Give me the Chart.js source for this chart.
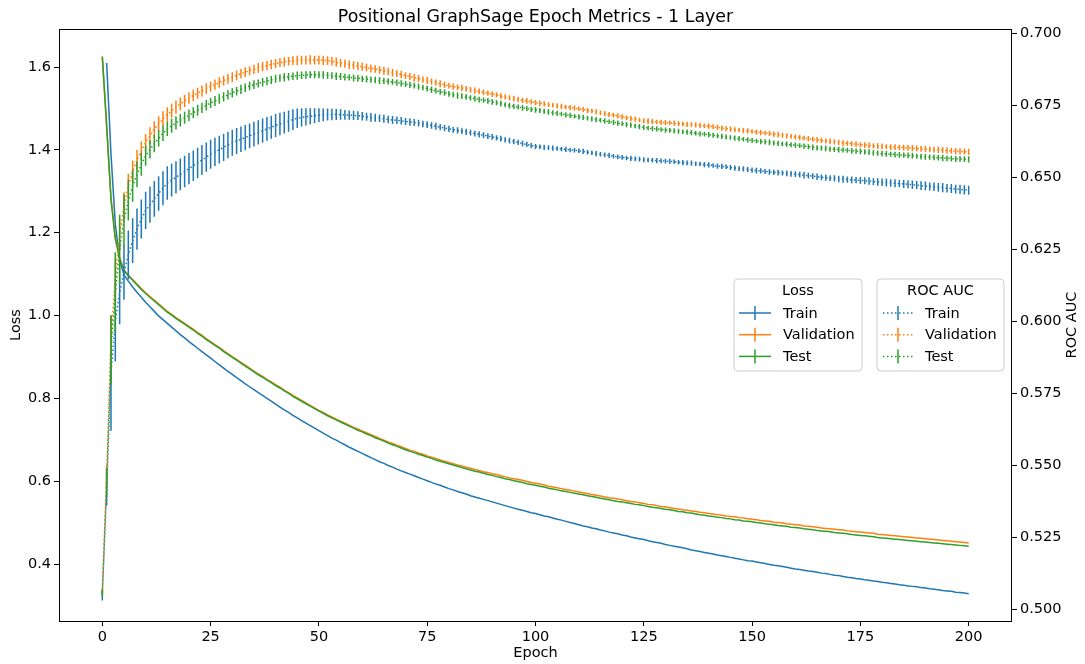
<!DOCTYPE html>
<html>
<head>
<meta charset="utf-8">
<script src="https://cdn.jsdelivr.net/npm/chart.js@4.4.0/dist/chart.umd.min.js"></script>
<style>
  body { margin: 0; background: #fff; }
  canvas { display: block; }
</style>
</head>
<body>
<canvas id="chart" width="1085" height="664"></canvas>
<script>
// epoch index 0..200
const epochs = Array.from({length: 201}, (_, i) => i);

const epochTicks = [0, 25, 50, 75, 100, 125, 150, 175, 200];
const lossTicks = [0.4, 0.6, 0.8, 1.0, 1.2, 1.4, 1.6];
const aucTicks = [0.500, 0.525, 0.550, 0.575, 0.600, 0.625, 0.650, 0.675, 0.700];

const lossTrain = [
  null,1.610,1.390,1.220,1.135,1.098,1.083,1.069,1.056,1.044,
  1.032,1.021,1.010,0.999,0.990,0.981,0.972,0.963,0.954,0.946,
  0.937,0.929,0.921,0.913,0.905,0.897,0.889,0.881,0.873,0.865,
  0.858,0.850,0.843,0.835,0.828,0.821,0.814,0.807,0.800,0.793,
  0.786,0.779,0.772,0.766,0.759,0.753,0.746,0.740,0.734,0.728,
  0.722,0.716,0.710,0.704,0.699,0.693,0.688,0.682,0.677,0.672,
  0.667,0.662,0.657,0.652,0.647,0.643,0.638,0.634,0.629,0.625,
  0.621,0.617,0.613,0.609,0.605,0.601,0.597,0.593,0.590,0.586,
  0.582,0.579,0.575,0.572,0.569,0.565,0.562,0.559,0.556,0.553,
  0.550,0.547,0.544,0.541,0.538,0.535,0.532,0.530,0.527,0.524,
  0.522,0.519,0.516,0.514,0.511,0.508,0.506,0.503,0.500,0.498,
  0.495,0.492,0.490,0.487,0.485,0.482,0.480,0.477,0.475,0.473,
  0.470,0.468,0.465,0.463,0.461,0.459,0.456,0.454,0.452,0.450,
  0.447,0.445,0.443,0.441,0.439,0.437,0.434,0.432,0.430,0.428,
  0.426,0.424,0.422,0.420,0.418,0.416,0.414,0.412,0.410,0.408,
  0.407,0.405,0.403,0.401,0.399,0.397,0.396,0.394,0.392,0.390,
  0.388,0.387,0.385,0.383,0.382,0.380,0.378,0.377,0.375,0.373,
  0.372,0.370,0.368,0.367,0.365,0.364,0.362,0.361,0.359,0.358,
  0.356,0.355,0.353,0.352,0.350,0.349,0.347,0.346,0.345,0.343,
  0.342,0.340,0.339,0.338,0.336,0.335,0.334,0.332,0.331,0.330,
  0.328
];

const lossVal = [
  1.625,1.455,1.285,1.190,1.140,1.110,1.098,1.087,1.076,1.065,
  1.055,1.046,1.037,1.028,1.019,1.010,1.003,0.995,0.988,0.981,
  0.974,0.967,0.959,0.952,0.944,0.937,0.930,0.923,0.915,0.908,
  0.901,0.894,0.887,0.880,0.873,0.866,0.859,0.853,0.846,0.840,
  0.833,0.827,0.820,0.814,0.807,0.801,0.795,0.789,0.783,0.777,
  0.771,0.766,0.760,0.755,0.750,0.745,0.740,0.735,0.730,0.726,
  0.721,0.717,0.712,0.708,0.703,0.699,0.695,0.691,0.687,0.683,
  0.679,0.675,0.672,0.668,0.665,0.661,0.658,0.655,0.651,0.648,
  0.645,0.642,0.639,0.637,0.634,0.631,0.628,0.626,0.623,0.621,
  0.618,0.616,0.613,0.611,0.608,0.606,0.604,0.602,0.599,0.597,
  0.595,0.593,0.591,0.588,0.586,0.584,0.582,0.580,0.578,0.576,
  0.574,0.572,0.570,0.568,0.566,0.564,0.562,0.560,0.559,0.557,
  0.555,0.553,0.551,0.550,0.548,0.546,0.544,0.543,0.541,0.539,
  0.538,0.536,0.534,0.533,0.531,0.530,0.528,0.527,0.525,0.524,
  0.522,0.521,0.519,0.518,0.516,0.515,0.514,0.512,0.511,0.509,
  0.508,0.507,0.505,0.504,0.503,0.501,0.500,0.499,0.497,0.496,
  0.495,0.494,0.492,0.491,0.490,0.489,0.487,0.486,0.485,0.484,
  0.483,0.482,0.480,0.479,0.478,0.477,0.476,0.475,0.474,0.472,
  0.471,0.470,0.469,0.468,0.467,0.466,0.465,0.464,0.463,0.462,
  0.461,0.460,0.459,0.458,0.457,0.456,0.455,0.454,0.453,0.452,
  0.451
];

const lossTest = [
  1.625,1.460,1.280,1.185,1.136,1.108,1.096,1.085,1.074,1.063,
  1.053,1.044,1.035,1.026,1.017,1.008,1.001,0.993,0.986,0.979,
  0.972,0.965,0.957,0.950,0.942,0.935,0.928,0.921,0.913,0.906,
  0.899,0.892,0.885,0.878,0.871,0.864,0.857,0.851,0.844,0.838,
  0.831,0.825,0.818,0.812,0.805,0.799,0.793,0.787,0.781,0.775,
  0.769,0.764,0.758,0.753,0.748,0.743,0.738,0.733,0.728,0.723,
  0.719,0.714,0.710,0.705,0.701,0.697,0.692,0.688,0.684,0.680,
  0.676,0.672,0.669,0.665,0.662,0.658,0.655,0.651,0.648,0.645,
  0.642,0.639,0.636,0.633,0.630,0.627,0.624,0.622,0.619,0.616,
  0.614,0.611,0.609,0.606,0.604,0.601,0.599,0.597,0.594,0.592,
  0.590,0.588,0.586,0.583,0.581,0.579,0.577,0.575,0.573,0.571,
  0.569,0.567,0.565,0.563,0.561,0.559,0.557,0.555,0.553,0.551,
  0.550,0.548,0.546,0.544,0.543,0.541,0.539,0.537,0.536,0.534,
  0.532,0.531,0.529,0.527,0.526,0.524,0.523,0.521,0.519,0.518,
  0.516,0.515,0.513,0.512,0.510,0.509,0.507,0.506,0.504,0.503,
  0.502,0.500,0.499,0.497,0.496,0.495,0.493,0.492,0.491,0.489,
  0.488,0.487,0.485,0.484,0.483,0.481,0.480,0.479,0.478,0.476,
  0.475,0.474,0.473,0.471,0.470,0.469,0.468,0.467,0.466,0.464,
  0.463,0.462,0.461,0.460,0.459,0.458,0.457,0.456,0.455,0.454,
  0.453,0.452,0.451,0.450,0.449,0.448,0.447,0.446,0.445,0.444,
  0.443
];

const aucTrain = [
  0.5050,0.5420,0.5820,0.6000,0.6100,0.6170,0.6230,0.6280,0.6320,0.6355,
  0.6385,0.6405,0.6425,0.6444,0.6462,0.6480,0.6490,0.6500,0.6510,0.6520,
  0.6530,0.6540,0.6550,0.6560,0.6570,0.6580,0.6588,0.6596,0.6604,0.6612,
  0.6620,0.6626,0.6632,0.6638,0.6644,0.6650,0.6656,0.6662,0.6668,0.6674,
  0.6680,0.6685,0.6690,0.6695,0.6700,0.6705,0.6708,0.6710,0.6712,0.6714,
  0.6716,0.6717,0.6718,0.6718,0.6718,0.6718,0.6717,0.6716,0.6715,0.6714,
  0.6712,0.6710,0.6708,0.6707,0.6705,0.6703,0.6701,0.6699,0.6698,0.6696,
  0.6694,0.6692,0.6690,0.6688,0.6685,0.6683,0.6680,0.6677,0.6674,0.6671,
  0.6668,0.6665,0.6663,0.6660,0.6658,0.6655,0.6652,0.6649,0.6646,0.6643,
  0.6640,0.6637,0.6634,0.6630,0.6627,0.6624,0.6621,0.6617,0.6614,0.6610,
  0.6607,0.6606,0.6604,0.6603,0.6601,0.6600,0.6598,0.6597,0.6595,0.6594,
  0.6592,0.6590,0.6587,0.6585,0.6582,0.6580,0.6578,0.6576,0.6573,0.6571,
  0.6569,0.6567,0.6566,0.6564,0.6563,0.6561,0.6560,0.6559,0.6558,0.6557,
  0.6556,0.6555,0.6554,0.6552,0.6551,0.6550,0.6549,0.6547,0.6546,0.6544,
  0.6543,0.6541,0.6539,0.6538,0.6536,0.6534,0.6532,0.6530,0.6529,0.6527,
  0.6525,0.6523,0.6522,0.6520,0.6519,0.6517,0.6516,0.6515,0.6514,0.6512,
  0.6511,0.6509,0.6507,0.6506,0.6504,0.6502,0.6500,0.6499,0.6497,0.6496,
  0.6494,0.6493,0.6492,0.6491,0.6490,0.6489,0.6488,0.6487,0.6485,0.6484,
  0.6483,0.6482,0.6480,0.6479,0.6478,0.6477,0.6476,0.6474,0.6473,0.6471,
  0.6470,0.6468,0.6467,0.6465,0.6464,0.6462,0.6461,0.6459,0.6458,0.6456,
  0.6455
];

const aucVal = [
  0.5060,0.5460,0.5940,0.6150,0.6300,0.6400,0.6470,0.6520,0.6560,0.6592,
  0.6620,0.6645,0.6667,0.6685,0.6703,0.6718,0.6731,0.6744,0.6755,0.6765,
  0.6775,0.6784,0.6792,0.6800,0.6808,0.6815,0.6822,0.6829,0.6836,0.6842,
  0.6848,0.6854,0.6860,0.6865,0.6870,0.6875,0.6880,0.6884,0.6888,0.6892,
  0.6895,0.6898,0.6901,0.6903,0.6905,0.6906,0.6907,0.6907,0.6908,0.6907,
  0.6907,0.6906,0.6905,0.6903,0.6900,0.6897,0.6894,0.6891,0.6889,0.6886,
  0.6884,0.6881,0.6878,0.6876,0.6873,0.6870,0.6867,0.6863,0.6860,0.6857,
  0.6853,0.6850,0.6846,0.6843,0.6839,0.6836,0.6832,0.6829,0.6825,0.6821,
  0.6818,0.6815,0.6812,0.6810,0.6807,0.6804,0.6801,0.6798,0.6795,0.6792,
  0.6789,0.6786,0.6782,0.6779,0.6776,0.6773,0.6770,0.6767,0.6765,0.6762,
  0.6759,0.6757,0.6755,0.6752,0.6750,0.6748,0.6746,0.6744,0.6742,0.6740,
  0.6738,0.6735,0.6732,0.6730,0.6727,0.6724,0.6721,0.6718,0.6716,0.6713,
  0.6710,0.6707,0.6704,0.6702,0.6699,0.6696,0.6695,0.6693,0.6692,0.6691,
  0.6690,0.6689,0.6688,0.6686,0.6685,0.6684,0.6683,0.6682,0.6680,0.6679,
  0.6678,0.6676,0.6673,0.6671,0.6669,0.6667,0.6665,0.6664,0.6662,0.6661,
  0.6659,0.6657,0.6655,0.6654,0.6652,0.6650,0.6648,0.6646,0.6644,0.6642,
  0.6640,0.6638,0.6636,0.6634,0.6632,0.6630,0.6628,0.6626,0.6625,0.6623,
  0.6621,0.6619,0.6618,0.6616,0.6615,0.6613,0.6612,0.6611,0.6609,0.6608,
  0.6607,0.6606,0.6605,0.6605,0.6604,0.6603,0.6602,0.6601,0.6600,0.6599,
  0.6598,0.6597,0.6596,0.6595,0.6594,0.6593,0.6592,0.6591,0.6590,0.6589,
  0.6588
];

const aucTest = [
  0.5056,0.5440,0.5900,0.6100,0.6250,0.6350,0.6420,0.6470,0.6510,0.6545,
  0.6575,0.6597,0.6617,0.6635,0.6653,0.6668,0.6679,0.6689,0.6698,0.6707,
  0.6715,0.6724,0.6733,0.6741,0.6750,0.6758,0.6765,0.6772,0.6779,0.6786,
  0.6793,0.6799,0.6805,0.6811,0.6817,0.6822,0.6826,0.6830,0.6834,0.6838,
  0.6842,0.6845,0.6847,0.6849,0.6851,0.6853,0.6854,0.6855,0.6856,0.6856,
  0.6856,0.6855,0.6854,0.6853,0.6851,0.6850,0.6848,0.6847,0.6845,0.6844,
  0.6842,0.6841,0.6839,0.6838,0.6836,0.6835,0.6833,0.6831,0.6829,0.6826,
  0.6824,0.6821,0.6818,0.6815,0.6811,0.6808,0.6804,0.6801,0.6797,0.6794,
  0.6790,0.6787,0.6784,0.6782,0.6779,0.6776,0.6773,0.6770,0.6768,0.6765,
  0.6762,0.6759,0.6756,0.6752,0.6749,0.6746,0.6744,0.6741,0.6739,0.6736,
  0.6734,0.6732,0.6729,0.6727,0.6724,0.6722,0.6720,0.6717,0.6715,0.6712,
  0.6710,0.6708,0.6705,0.6703,0.6700,0.6698,0.6696,0.6693,0.6691,0.6688,
  0.6686,0.6683,0.6681,0.6678,0.6676,0.6673,0.6671,0.6669,0.6668,0.6666,
  0.6664,0.6663,0.6661,0.6660,0.6658,0.6657,0.6655,0.6653,0.6651,0.6650,
  0.6648,0.6646,0.6644,0.6642,0.6640,0.6638,0.6636,0.6634,0.6632,0.6630,
  0.6628,0.6626,0.6624,0.6623,0.6621,0.6619,0.6618,0.6616,0.6615,0.6613,
  0.6612,0.6610,0.6608,0.6606,0.6604,0.6602,0.6601,0.6600,0.6598,0.6597,
  0.6596,0.6595,0.6594,0.6592,0.6591,0.6590,0.6588,0.6587,0.6585,0.6584,
  0.6582,0.6581,0.6580,0.6579,0.6578,0.6577,0.6576,0.6575,0.6573,0.6572,
  0.6571,0.6570,0.6569,0.6568,0.6567,0.6566,0.6565,0.6564,0.6564,0.6563,
  0.6562
];

// standard deviations (error bar half-lengths) of ROC AUC
const aucTrainErr = [
  0.0020,0.0060,0.0200,0.0140,0.0110,0.0095,0.0085,0.0078,0.0072,0.0068,
  0.0065,0.0063,0.0062,0.0060,0.0059,0.0058,0.0057,0.0056,0.0055,0.0055,
  0.0054,0.0053,0.0053,0.0052,0.0051,0.0050,0.0049,0.0048,0.0047,0.0046,
  0.0045,0.0045,0.0044,0.0044,0.0043,0.0043,0.0042,0.0042,0.0041,0.0040,
  0.0040,0.0039,0.0038,0.0037,0.0036,0.0034,0.0032,0.0030,0.0028,0.0026,
  0.0024,0.0022,0.0021,0.0020,0.0019,0.0018,0.0017,0.0016,0.0016,0.0015,
  0.0015,0.0014,0.0015,0.0014,0.0013,0.0014,0.0013,0.0014,0.0013,0.0013,
  0.0012,0.0013,0.0012,0.0012,0.0011,0.0012,0.0011,0.0012,0.0011,0.0011,
  0.0011,0.0010,0.0011,0.0010,0.0011,0.0010,0.0010,0.0011,0.0010,0.0010,
  0.0010,0.0009,0.0010,0.0009,0.0010,0.0009,0.0009,0.0010,0.0009,0.0009,
  0.0009,0.0008,0.0009,0.0008,0.0009,0.0008,0.0008,0.0009,0.0008,0.0008,
  0.0008,0.0009,0.0008,0.0008,0.0009,0.0008,0.0008,0.0009,0.0008,0.0008,
  0.0008,0.0008,0.0009,0.0008,0.0008,0.0009,0.0008,0.0008,0.0009,0.0008,
  0.0008,0.0009,0.0008,0.0008,0.0009,0.0008,0.0009,0.0008,0.0008,0.0009,
  0.0009,0.0008,0.0009,0.0009,0.0008,0.0009,0.0009,0.0008,0.0009,0.0009,
  0.0009,0.0010,0.0009,0.0009,0.0010,0.0009,0.0010,0.0009,0.0010,0.0010,
  0.0010,0.0010,0.0011,0.0010,0.0010,0.0011,0.0010,0.0011,0.0010,0.0011,
  0.0011,0.0012,0.0011,0.0012,0.0011,0.0012,0.0012,0.0013,0.0012,0.0013,
  0.0013,0.0014,0.0013,0.0014,0.0013,0.0014,0.0014,0.0015,0.0014,0.0015,
  0.0015,0.0014,0.0015,0.0015,0.0016,0.0015,0.0016,0.0015,0.0016,0.0016,
  0.0016
];

const aucValErr = [
  0.0010,0.0040,0.0080,0.0070,0.0055,0.0048,0.0042,0.0038,0.0035,0.0032,
  0.0030,0.0029,0.0028,0.0027,0.0026,0.0025,0.0024,0.0023,0.0022,0.0021,
  0.0020,0.0020,0.0019,0.0019,0.0019,0.0018,0.0018,0.0018,0.0017,0.0017,
  0.0017,0.0017,0.0016,0.0017,0.0016,0.0016,0.0017,0.0016,0.0016,0.0016,
  0.0016,0.0015,0.0016,0.0015,0.0015,0.0016,0.0015,0.0015,0.0016,0.0015,
  0.0015,0.0016,0.0015,0.0015,0.0016,0.0015,0.0014,0.0015,0.0014,0.0014,
  0.0014,0.0013,0.0014,0.0013,0.0013,0.0014,0.0013,0.0013,0.0012,0.0013,
  0.0012,0.0012,0.0013,0.0012,0.0011,0.0012,0.0011,0.0011,0.0012,0.0011,
  0.0010,0.0011,0.0010,0.0011,0.0010,0.0010,0.0011,0.0010,0.0010,0.0009,
  0.0010,0.0009,0.0010,0.0009,0.0009,0.0010,0.0009,0.0009,0.0010,0.0009,
  0.0009,0.0010,0.0009,0.0009,0.0008,0.0009,0.0009,0.0008,0.0009,0.0009,
  0.0008,0.0009,0.0009,0.0008,0.0009,0.0008,0.0009,0.0009,0.0008,0.0009,
  0.0009,0.0008,0.0009,0.0009,0.0008,0.0009,0.0010,0.0009,0.0008,0.0009,
  0.0009,0.0008,0.0009,0.0009,0.0008,0.0009,0.0008,0.0009,0.0009,0.0008,
  0.0009,0.0008,0.0009,0.0009,0.0008,0.0009,0.0009,0.0008,0.0009,0.0009,
  0.0008,0.0009,0.0009,0.0008,0.0009,0.0009,0.0010,0.0009,0.0009,0.0008,
  0.0009,0.0009,0.0008,0.0009,0.0009,0.0010,0.0009,0.0009,0.0010,0.0009,
  0.0009,0.0010,0.0009,0.0009,0.0010,0.0009,0.0010,0.0010,0.0009,0.0010,
  0.0010,0.0009,0.0010,0.0010,0.0009,0.0010,0.0010,0.0011,0.0010,0.0010,
  0.0011,0.0010,0.0010,0.0011,0.0010,0.0011,0.0010,0.0011,0.0011,0.0010,
  0.0011
];

const aucTestErr = [
  0.0010,0.0050,0.0120,0.0140,0.0120,0.0090,0.0070,0.0055,0.0045,0.0040,
  0.0035,0.0032,0.0030,0.0028,0.0027,0.0025,0.0024,0.0023,0.0022,0.0021,
  0.0020,0.0019,0.0019,0.0018,0.0018,0.0017,0.0017,0.0017,0.0016,0.0016,
  0.0016,0.0015,0.0016,0.0015,0.0015,0.0015,0.0014,0.0015,0.0014,0.0014,
  0.0014,0.0013,0.0014,0.0013,0.0013,0.0014,0.0013,0.0013,0.0012,0.0013,
  0.0012,0.0013,0.0012,0.0012,0.0013,0.0012,0.0012,0.0011,0.0012,0.0012,
  0.0011,0.0012,0.0011,0.0011,0.0012,0.0011,0.0011,0.0010,0.0011,0.0011,
  0.0010,0.0011,0.0010,0.0011,0.0010,0.0010,0.0011,0.0010,0.0010,0.0011,
  0.0010,0.0010,0.0011,0.0010,0.0010,0.0009,0.0010,0.0010,0.0009,0.0010,
  0.0010,0.0009,0.0010,0.0009,0.0010,0.0009,0.0009,0.0010,0.0009,0.0009,
  0.0010,0.0009,0.0009,0.0010,0.0009,0.0009,0.0008,0.0009,0.0009,0.0008,
  0.0009,0.0009,0.0008,0.0009,0.0009,0.0008,0.0009,0.0008,0.0009,0.0009,
  0.0008,0.0009,0.0009,0.0008,0.0009,0.0009,0.0008,0.0009,0.0009,0.0008,
  0.0009,0.0008,0.0009,0.0009,0.0008,0.0009,0.0009,0.0008,0.0009,0.0008,
  0.0009,0.0009,0.0008,0.0009,0.0009,0.0008,0.0009,0.0009,0.0008,0.0009,
  0.0009,0.0008,0.0009,0.0009,0.0010,0.0009,0.0009,0.0008,0.0009,0.0009,
  0.0009,0.0008,0.0009,0.0009,0.0010,0.0009,0.0009,0.0010,0.0009,0.0009,
  0.0010,0.0009,0.0009,0.0010,0.0009,0.0010,0.0009,0.0010,0.0010,0.0009,
  0.0010,0.0010,0.0009,0.0010,0.0010,0.0009,0.0010,0.0010,0.0009,0.0010,
  0.0010,0.0009,0.0010,0.0010,0.0011,0.0010,0.0010,0.0011,0.0010,0.0010,
  0.0011
];

const BLUE = '#1f77b4', ORANGE = '#ff7f0e', GREEN = '#2ca02c';
const FONT = '"DejaVu Sans", sans-serif';

Chart.defaults.font.family = FONT;
Chart.defaults.font.size = 14.5;
Chart.defaults.color = '#000';

const pts = arr => epochs.map((e, i) => ({x: e, y: arr[i]}));

function lossSet(label, arr, color, order) {
  return {label, data: pts(arr), yAxisID: 'yLoss', borderColor: color, backgroundColor: color,
          borderWidth: 1.5, pointRadius: 0, tension: 0, order};
}
function aucSet(label, arr, err, color, order) {
  return {label, data: pts(arr), err, yAxisID: 'yAuc', borderColor: color, backgroundColor: color,
          borderWidth: 1.5, borderDash: [1.5, 2.5], pointRadius: 0, tension: 0, order};
}

// vertical error bars, drawn just under each dataset's line
const errorBars = {
  id: 'errorBars',
  beforeDatasetDraw(chart, args) {
    const ds = chart.data.datasets[args.index];
    if (!ds.err) return;
    const ctx = chart.ctx, xs = chart.scales.x, ys = chart.scales[ds.yAxisID];
    const a = chart.chartArea;
    ctx.save();
    ctx.beginPath();
    ctx.rect(a.left, a.top, a.right - a.left, a.bottom - a.top);
    ctx.clip();
    ctx.strokeStyle = ds.borderColor;
    ctx.lineWidth = 1.5;
    ctx.beginPath();
    ds.data.forEach((p, i) => {
      const e = ds.err[i];
      if (p.y == null || !e) return;
      const px = xs.getPixelForValue(p.x);
      ctx.moveTo(px, ys.getPixelForValue(p.y - e));
      ctx.lineTo(px, ys.getPixelForValue(p.y + e));
    });
    ctx.stroke();
    ctx.restore();
  }
};

function drawLegend(ctx, box, title, items, dotted) {
  ctx.save();
  ctx.beginPath();
  ctx.roundRect(box.x, box.y, box.w, box.h, 4);
  ctx.fillStyle = 'rgba(255,255,255,0.8)';
  ctx.fill();
  ctx.strokeStyle = '#cccccc';
  ctx.lineWidth = 1;
  ctx.stroke();
  ctx.font = '14.5px ' + FONT;
  ctx.fillStyle = '#000';
  ctx.textBaseline = 'middle';
  ctx.textAlign = 'center';
  ctx.fillText(title, box.x + box.w / 2, box.y + 12);
  ctx.textAlign = 'left';
  items.forEach((it, i) => {
    const y = box.y + 34 + i * 21.7;
    ctx.strokeStyle = it.color;
    ctx.lineWidth = 1.5;
    ctx.setLineDash(dotted ? [1.5, 2.5] : []);
    ctx.beginPath();
    ctx.moveTo(box.x + box.iconL, y);
    ctx.lineTo(box.x + box.iconL + box.iconW, y);
    ctx.stroke();
    ctx.setLineDash([]);
    const cx = box.x + box.iconL + box.iconW / 2;
    ctx.beginPath();
    ctx.moveTo(cx, y - 7);
    ctx.lineTo(cx, y + 7);
    ctx.stroke();
    ctx.fillStyle = '#000';
    ctx.fillText(it.label, box.x + box.textL, y + 1);
  });
  ctx.restore();
}

const decorations = {
  id: 'decorations',
  afterDraw(chart) {
    const ctx = chart.ctx, a = chart.chartArea;
    ctx.save();
    // frame
    ctx.strokeStyle = '#000';
    ctx.lineWidth = 1;
    ctx.strokeRect(Math.round(a.left) + 0.5, Math.round(a.top) + 0.5,
                   Math.round(a.right - a.left) - 1, Math.round(a.bottom - a.top));
    // title
    ctx.fillStyle = '#000';
    ctx.font = '17.4px ' + FONT;
    ctx.textAlign = 'center';
    ctx.textBaseline = 'alphabetic';
    ctx.fillText('Positional GraphSage Epoch Metrics - 1 Layer', (a.left + a.right) / 2, 22);
    // axis titles
    ctx.font = '14.5px ' + FONT;
    ctx.textBaseline = 'middle';
    ctx.fillText('Epoch', (a.left + a.right) / 2, 653);
    const cy = (a.top + a.bottom) / 2;
    ctx.save(); ctx.translate(16, cy); ctx.rotate(-Math.PI / 2); ctx.fillText('Loss', 0, 0); ctx.restore();
    ctx.save(); ctx.translate(1072, cy); ctx.rotate(-Math.PI / 2); ctx.fillText('ROC AUC', 0, 0); ctx.restore();
    ctx.restore();

    drawLegend(ctx, {x: 734, y: 279, w: 128, h: 92, iconL: 5, iconW: 32, textL: 49}, 'Loss',
      [{label: 'Train', color: BLUE}, {label: 'Validation', color: ORANGE}, {label: 'Test', color: GREEN}], false);
    drawLegend(ctx, {x: 877, y: 279, w: 127, h: 92, iconL: 6, iconW: 30, textL: 48}, 'ROC AUC',
      [{label: 'Train', color: BLUE}, {label: 'Validation', color: ORANGE}, {label: 'Test', color: GREEN}], true);
  }
};

const tickGrid = {display: true, drawOnChartArea: false, drawTicks: true, tickLength: 5, color: '#000', lineWidth: 1};

new Chart(document.getElementById('chart'), {
  type: 'line',
  data: {
    datasets: [
      lossSet('Train', lossTrain, BLUE, 6),
      lossSet('Validation', lossVal, ORANGE, 5),
      lossSet('Test', lossTest, GREEN, 4),
      aucSet('Train', aucTrain, aucTrainErr, BLUE, 3),
      aucSet('Validation', aucVal, aucValErr, ORANGE, 2),
      aucSet('Test', aucTest, aucTestErr, GREEN, 1)
    ]
  },
  options: {
    responsive: false,
    animation: false,
    devicePixelRatio: 1,
    layout: {padding: {top: 29, left: 0, right: 0, bottom: 0}},
    plugins: {legend: {display: false}, tooltip: {enabled: false}, title: {display: false}},
    scales: {
      x: {
        type: 'linear', min: -10, max: 210,
        afterBuildTicks: s => { s.ticks = epochTicks.map(v => ({value: v})); },
        afterFit: s => { s.height = 43; },
        ticks: {padding: 3, maxRotation: 0, callback: v => String(v)},
        grid: tickGrid, border: {display: false}
      },
      yLoss: {
        type: 'linear', position: 'left', min: 0.2624, max: 1.6918,
        afterBuildTicks: s => { s.ticks = lossTicks.map(v => ({value: v})); },
        afterFit: s => { s.width = 59; },
        ticks: {padding: 3, callback: v => v.toFixed(1)},
        grid: tickGrid, border: {display: false}
      },
      yAuc: {
        type: 'linear', position: 'right', min: 0.4959, max: 0.7015,
        afterBuildTicks: s => { s.ticks = aucTicks.map(v => ({value: v})); },
        afterFit: s => { s.width = 73; },
        ticks: {padding: 3, callback: v => v.toFixed(3)},
        grid: tickGrid, border: {display: false}
      }
    }
  },
  plugins: [errorBars, decorations]
});
</script>
</body>
</html>
